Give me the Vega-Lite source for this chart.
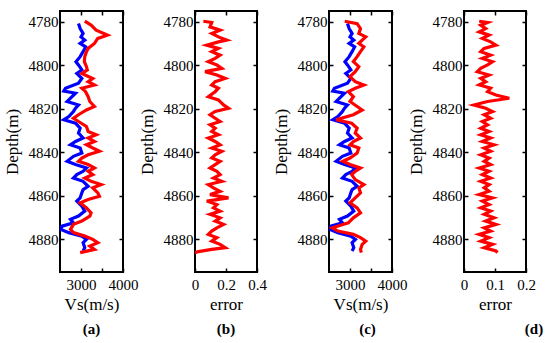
{
"$schema":"https://vega.github.io/schema/vega-lite/v6.json",
"padding":{"left":2,"top":9,"right":0,"bottom":0},
"bounds":"flush",
"spacing":72,
"datasets":{
"blue":[{"d":4780.8,"v":2940},{"d":4783.1,"v":2980},{"d":4785.3,"v":3050},{"d":4786.9,"v":3000},{"d":4788.4,"v":3090},{"d":4789.9,"v":2980},{"d":4791.5,"v":3110},{"d":4793.7,"v":3050},{"d":4796.0,"v":2980},{"d":4798.3,"v":2880},{"d":4799.8,"v":2940},{"d":4802.1,"v":3020},{"d":4803.7,"v":2900},{"d":4806.0,"v":3020},{"d":4808.2,"v":2940},{"d":4810.5,"v":2630},{"d":4811.8,"v":2590},{"d":4812.8,"v":2870},{"d":4815.1,"v":2750},{"d":4816.6,"v":2670},{"d":4818.2,"v":2940},{"d":4819.7,"v":2870},{"d":4821.2,"v":2820},{"d":4823.5,"v":2710},{"d":4825.0,"v":2590},{"d":4826.6,"v":2870},{"d":4828.9,"v":2980},{"d":4831.1,"v":2940},{"d":4833.4,"v":3050},{"d":4835.0,"v":2870},{"d":4836.5,"v":2750},{"d":4838.0,"v":2980},{"d":4840.3,"v":3020},{"d":4841.8,"v":2820},{"d":4844.1,"v":2670},{"d":4845.6,"v":2870},{"d":4847.2,"v":3130},{"d":4848.7,"v":3050},{"d":4850.2,"v":2900},{"d":4851.8,"v":2820},{"d":4853.3,"v":3050},{"d":4855.6,"v":3170},{"d":4857.1,"v":3050},{"d":4858.6,"v":3020},{"d":4860.9,"v":2980},{"d":4862.4,"v":2900},{"d":4864.7,"v":3020},{"d":4867.0,"v":3090},{"d":4869.3,"v":2940},{"d":4870.8,"v":2750},{"d":4872.4,"v":2820},{"d":4873.9,"v":2550},{"d":4875.4,"v":2520},{"d":4876.9,"v":2710},{"d":4878.5,"v":3020},{"d":4880.0,"v":3130},{"d":4881.5,"v":3050},{"d":4883.8,"v":3090},{"d":4885.3,"v":3050}],
"redA":[{"d":4779.7,"v":3090},{"d":4781.5,"v":3240},{"d":4783.8,"v":3360},{"d":4786.1,"v":3630},{"d":4787.6,"v":3400},{"d":4789.9,"v":3320},{"d":4792.2,"v":3170},{"d":4793.7,"v":3130},{"d":4796.0,"v":3090},{"d":4798.3,"v":3080},{"d":4800.6,"v":3130},{"d":4802.1,"v":3150},{"d":4803.7,"v":3020},{"d":4806.0,"v":3280},{"d":4807.5,"v":3170},{"d":4809.0,"v":3320},{"d":4810.5,"v":3020},{"d":4812.1,"v":3110},{"d":4814.4,"v":3170},{"d":4816.6,"v":3210},{"d":4818.9,"v":3320},{"d":4820.5,"v":3130},{"d":4822.7,"v":2940},{"d":4824.3,"v":2820},{"d":4825.8,"v":2940},{"d":4828.1,"v":3130},{"d":4830.4,"v":3170},{"d":4831.9,"v":3360},{"d":4833.4,"v":3170},{"d":4835.0,"v":3320},{"d":4836.5,"v":3130},{"d":4838.0,"v":3280},{"d":4839.5,"v":3440},{"d":4841.1,"v":3170},{"d":4842.6,"v":3020},{"d":4844.1,"v":2940},{"d":4845.6,"v":3170},{"d":4847.2,"v":3320},{"d":4848.7,"v":3170},{"d":4850.2,"v":3280},{"d":4851.8,"v":3090},{"d":4853.3,"v":3240},{"d":4854.8,"v":3480},{"d":4856.3,"v":3280},{"d":4858.6,"v":3400},{"d":4860.2,"v":3440},{"d":4861.7,"v":3170},{"d":4863.2,"v":2980},{"d":4865.5,"v":3130},{"d":4867.8,"v":3240},{"d":4869.3,"v":3210},{"d":4871.6,"v":3020},{"d":4873.1,"v":2820},{"d":4875.4,"v":2750},{"d":4876.9,"v":2820},{"d":4878.5,"v":3090},{"d":4880.0,"v":3280},{"d":4881.5,"v":3400},{"d":4883.1,"v":3210},{"d":4884.6,"v":3320},{"d":4886.1,"v":2980}],
"redC":[{"d":4779.7,"v":2875},{"d":4780.8,"v":3170},{"d":4783.1,"v":3250},{"d":4785.3,"v":3210},{"d":4786.9,"v":3375},{"d":4788.4,"v":3290},{"d":4789.9,"v":3210},{"d":4791.5,"v":3330},{"d":4793.7,"v":3250},{"d":4796.0,"v":3170},{"d":4798.3,"v":3080},{"d":4800.6,"v":3210},{"d":4802.9,"v":3125},{"d":4805.2,"v":3000},{"d":4807.5,"v":3125},{"d":4809.0,"v":3330},{"d":4810.5,"v":3125},{"d":4812.1,"v":2960},{"d":4814.4,"v":3080},{"d":4816.6,"v":3000},{"d":4818.9,"v":3170},{"d":4820.5,"v":3290},{"d":4822.7,"v":3080},{"d":4825.0,"v":2670},{"d":4826.6,"v":3040},{"d":4828.9,"v":3170},{"d":4831.1,"v":3125},{"d":4833.4,"v":3250},{"d":4835.0,"v":3080},{"d":4836.5,"v":3000},{"d":4838.0,"v":3210},{"d":4840.3,"v":3170},{"d":4842.6,"v":3000},{"d":4844.1,"v":2830},{"d":4845.6,"v":3000},{"d":4847.2,"v":3250},{"d":4848.7,"v":3125},{"d":4850.2,"v":3040},{"d":4852.5,"v":3125},{"d":4854.8,"v":3330},{"d":4856.3,"v":3210},{"d":4858.6,"v":3250},{"d":4860.9,"v":3125},{"d":4863.2,"v":3000},{"d":4865.5,"v":3170},{"d":4867.8,"v":3250},{"d":4870.1,"v":3080},{"d":4872.4,"v":2960},{"d":4874.7,"v":2580},{"d":4876.2,"v":2710},{"d":4877.7,"v":3080},{"d":4879.2,"v":3250},{"d":4880.8,"v":3375},{"d":4882.3,"v":3290},{"d":4884.6,"v":3250},{"d":4886.1,"v":3270}],
"errB":[{"d":4779.7,"e":0.054},{"d":4780.3,"e":0.108},{"d":4782.3,"e":0.097},{"d":4783.8,"e":0.162},{"d":4785.3,"e":0.108},{"d":4786.9,"e":0.151},{"d":4788.4,"e":0.205},{"d":4789.2,"e":0.151},{"d":4790.7,"e":0.076},{"d":4792.2,"e":0.151},{"d":4793.7,"e":0.108},{"d":4795.3,"e":0.162},{"d":4796.8,"e":0.130},{"d":4798.3,"e":0.086},{"d":4799.8,"e":0.141},{"d":4801.4,"e":0.173},{"d":4802.9,"e":0.065},{"d":4804.4,"e":0.141},{"d":4806.0,"e":0.195},{"d":4807.5,"e":0.130},{"d":4809.0,"e":0.108},{"d":4810.5,"e":0.151},{"d":4812.1,"e":0.130},{"d":4814.4,"e":0.086},{"d":4815.9,"e":0.151},{"d":4818.2,"e":0.184},{"d":4819.7,"e":0.216},{"d":4821.2,"e":0.130},{"d":4822.7,"e":0.097},{"d":4824.3,"e":0.130},{"d":4825.8,"e":0.162},{"d":4827.3,"e":0.097},{"d":4828.9,"e":0.130},{"d":4830.4,"e":0.108},{"d":4831.9,"e":0.151},{"d":4833.4,"e":0.086},{"d":4835.0,"e":0.130},{"d":4836.5,"e":0.162},{"d":4838.0,"e":0.108},{"d":4839.5,"e":0.173},{"d":4841.1,"e":0.130},{"d":4842.6,"e":0.108},{"d":4844.1,"e":0.162},{"d":4845.6,"e":0.130},{"d":4847.2,"e":0.097},{"d":4848.7,"e":0.141},{"d":4850.2,"e":0.162},{"d":4851.8,"e":0.119},{"d":4853.3,"e":0.173},{"d":4854.8,"e":0.086},{"d":4856.3,"e":0.119},{"d":4857.9,"e":0.162},{"d":4859.4,"e":0.097},{"d":4860.9,"e":0.216},{"d":4862.4,"e":0.076},{"d":4864.0,"e":0.141},{"d":4865.5,"e":0.119},{"d":4867.0,"e":0.162},{"d":4868.5,"e":0.097},{"d":4870.1,"e":0.162},{"d":4871.6,"e":0.130},{"d":4873.1,"e":0.184},{"d":4874.7,"e":0.141},{"d":4876.2,"e":0.108},{"d":4877.7,"e":0.086},{"d":4879.2,"e":0.141},{"d":4880.8,"e":0.108},{"d":4882.3,"e":0.162},{"d":4883.8,"e":0.195},{"d":4884.6,"e":0.108},{"d":4885.6,"e":0.022},{"d":4886.1,"e":0.0}],
"errD":[{"d":4779.7,"e":0.049},{"d":4780.3,"e":0.076},{"d":4781.5,"e":0.054},{"d":4783.1,"e":0.070},{"d":4784.6,"e":0.049},{"d":4786.1,"e":0.081},{"d":4787.6,"e":0.059},{"d":4789.2,"e":0.086},{"d":4790.7,"e":0.103},{"d":4792.2,"e":0.065},{"d":4793.7,"e":0.054},{"d":4795.3,"e":0.086},{"d":4796.8,"e":0.059},{"d":4798.3,"e":0.092},{"d":4799.8,"e":0.076},{"d":4801.4,"e":0.054},{"d":4802.9,"e":0.043},{"d":4804.4,"e":0.081},{"d":4806.0,"e":0.054},{"d":4807.5,"e":0.070},{"d":4809.0,"e":0.049},{"d":4810.5,"e":0.086},{"d":4812.1,"e":0.076},{"d":4813.6,"e":0.103},{"d":4815.1,"e":0.146},{"d":4816.6,"e":0.076},{"d":4818.2,"e":0.032},{"d":4819.7,"e":0.070},{"d":4821.2,"e":0.092},{"d":4822.7,"e":0.065},{"d":4824.3,"e":0.086},{"d":4825.8,"e":0.059},{"d":4827.3,"e":0.076},{"d":4828.9,"e":0.054},{"d":4830.4,"e":0.081},{"d":4831.9,"e":0.054},{"d":4833.4,"e":0.086},{"d":4835.0,"e":0.059},{"d":4836.5,"e":0.097},{"d":4838.0,"e":0.065},{"d":4839.5,"e":0.086},{"d":4841.1,"e":0.054},{"d":4842.6,"e":0.081},{"d":4844.1,"e":0.065},{"d":4845.6,"e":0.086},{"d":4847.2,"e":0.049},{"d":4848.7,"e":0.081},{"d":4850.2,"e":0.059},{"d":4851.8,"e":0.086},{"d":4853.3,"e":0.054},{"d":4854.8,"e":0.081},{"d":4856.3,"e":0.065},{"d":4857.9,"e":0.081},{"d":4859.4,"e":0.049},{"d":4860.9,"e":0.092},{"d":4862.4,"e":0.059},{"d":4864.0,"e":0.081},{"d":4865.5,"e":0.054},{"d":4867.0,"e":0.086},{"d":4868.5,"e":0.065},{"d":4870.1,"e":0.097},{"d":4871.6,"e":0.070},{"d":4873.1,"e":0.103},{"d":4874.7,"e":0.065},{"d":4876.2,"e":0.086},{"d":4877.7,"e":0.049},{"d":4879.2,"e":0.081},{"d":4880.8,"e":0.054},{"d":4882.3,"e":0.092},{"d":4883.8,"e":0.065},{"d":4885.3,"e":0.103},{"d":4886.1,"e":0.108}]
},
"hconcat":[
{"width":63,"height":261,
 "title":{"text":"(a)","orient":"bottom","fontWeight":"bold","fontSize":15,"offset":10},
 "layer":[
  {"data":{"name":"blue"},"mark":{"type":"line","color":"#0000ff","strokeWidth":3.2,"clip":true},
   "encoding":{"x":{"field":"v","type":"quantitative","scale":{"domain":[2500,4000],"nice":false,"zero":false},"axis":{"orient":"bottom","values":[3000,3500,4000],"format":"d","labelExpr":"datum.value==3500?'':datum.label","title":"Vs(m/s)"}},
   "y":{"field":"d","type":"quantitative","scale":{"domain":[4775,4895],"reverse":true,"nice":false,"zero":false},"axis":{"orient":"left","values":[4780,4800,4820,4840,4860,4880],"format":"d","title":"Depth(m)"}},
   "order":{"field":"d","type":"quantitative"}}},
  {"data":{"name":"redA"},"mark":{"type":"line","color":"#ff0000","strokeWidth":3.2,"clip":true},
   "encoding":{"x":{"field":"v","type":"quantitative","axis":{"orient":"top","values":[3000,3500,4000],"labels":false,"title":null}},
   "y":{"field":"d","type":"quantitative","axis":{"orient":"right","values":[4780,4800,4820,4840,4860,4880],"labels":false,"title":null}},
   "order":{"field":"d","type":"quantitative"}}}
 ],
 "resolve":{"axis":{"x":"independent","y":"independent"}}},
{"width":62,"height":261,
 "title":{"text":"(b)","orient":"bottom","fontWeight":"bold","fontSize":15,"offset":10},
 "layer":[
  {"data":{"name":"errB"},"mark":{"type":"line","color":"#ff0000","strokeWidth":3.2,"clip":true},
   "encoding":{"x":{"field":"e","type":"quantitative","scale":{"domain":[0,0.4],"nice":false,"zero":false},"axis":{"orient":"bottom","values":[0,0.2,0.4],"format":".1~f","title":"error"}},
   "y":{"field":"d","type":"quantitative","scale":{"domain":[4775,4895],"reverse":true,"nice":false,"zero":false},"axis":{"orient":"left","values":[4780,4800,4820,4840,4860,4880],"format":"d","title":"Depth(m)"}},
   "order":{"field":"d","type":"quantitative"}}},
  {"data":{"name":"errB"},"mark":{"type":"line","opacity":0},
   "encoding":{"x":{"field":"e","type":"quantitative","axis":{"orient":"top","values":[0,0.2,0.4],"labels":false,"title":null}},
   "y":{"field":"d","type":"quantitative","axis":{"orient":"right","values":[4780,4800,4820,4840,4860,4880],"labels":false,"title":null}},
   "order":{"field":"d","type":"quantitative"}}}
 ],
 "resolve":{"axis":{"x":"independent","y":"independent"}}},
{"width":63,"height":261,
 "title":{"text":"(c)","orient":"bottom","fontWeight":"bold","fontSize":15,"offset":10,"dx":7},
 "layer":[
  {"data":{"name":"blue"},"mark":{"type":"line","color":"#0000ff","strokeWidth":3.2,"clip":true},
   "encoding":{"x":{"field":"v","type":"quantitative","scale":{"domain":[2500,4000],"nice":false,"zero":false},"axis":{"orient":"bottom","values":[3000,3500,4000],"format":"d","labelExpr":"datum.value==3500?'':datum.label","title":"Vs(m/s)"}},
   "y":{"field":"d","type":"quantitative","scale":{"domain":[4775,4895],"reverse":true,"nice":false,"zero":false},"axis":{"orient":"left","values":[4780,4800,4820,4840,4860,4880],"format":"d","title":"Depth(m)"}},
   "order":{"field":"d","type":"quantitative"}}},
  {"data":{"name":"redC"},"mark":{"type":"line","color":"#ff0000","strokeWidth":3.2,"clip":true},
   "encoding":{"x":{"field":"v","type":"quantitative","axis":{"orient":"top","values":[3000,3500,4000],"labels":false,"title":null}},
   "y":{"field":"d","type":"quantitative","axis":{"orient":"right","values":[4780,4800,4820,4840,4860,4880],"labels":false,"title":null}},
   "order":{"field":"d","type":"quantitative"}}}
 ],
 "resolve":{"axis":{"x":"independent","y":"independent"}}},
{"width":62,"height":261,
 "title":{"text":"(d)","orient":"bottom","fontWeight":"bold","fontSize":15,"offset":10,"dx":39},
 "layer":[
  {"data":{"name":"errD"},"mark":{"type":"line","color":"#ff0000","strokeWidth":3.2,"clip":true},
   "encoding":{"x":{"field":"e","type":"quantitative","scale":{"domain":[0,0.2],"nice":false,"zero":false},"axis":{"orient":"bottom","values":[0,0.1,0.2],"format":".1~f","labelOverlap":false,"labelSeparation":0,"title":"error"}},
   "y":{"field":"d","type":"quantitative","scale":{"domain":[4775,4895],"reverse":true,"nice":false,"zero":false},"axis":{"orient":"left","values":[4780,4800,4820,4840,4860,4880],"format":"d","title":"Depth(m)"}},
   "order":{"field":"d","type":"quantitative"}}},
  {"data":{"name":"errD"},"mark":{"type":"line","opacity":0},
   "encoding":{"x":{"field":"e","type":"quantitative","axis":{"orient":"top","values":[0,0.1,0.2],"labels":false,"title":null}},
   "y":{"field":"d","type":"quantitative","axis":{"orient":"right","values":[4780,4800,4820,4840,4860,4880],"labels":false,"title":null}},
   "order":{"field":"d","type":"quantitative"}}}
 ],
 "resolve":{"axis":{"x":"independent","y":"independent"}}}
],
"config":{
 "view":{"stroke":"black","strokeWidth":2},
 "font":"Liberation Serif, Times New Roman, serif",
 "title":{"font":"Liberation Serif, Times New Roman, serif","color":"black"},
 "axis":{"domain":false,"grid":false,"ticks":true,"tickColor":"black","tickSize":-4,"tickWidth":1.5,"labelFont":"Liberation Serif, Times New Roman, serif","labelFontSize":15,"labelColor":"black","labelPadding":6,"labelFlush":false,"labelOverlap":false,"titleFont":"Liberation Serif, Times New Roman, serif","titleFontSize":17,"titleFontWeight":"normal","titleColor":"black"},
 "axisLeft":{"titlePadding":7},
 "axisBottom":{"labelPadding":9,"titlePadding":4}
}
}
